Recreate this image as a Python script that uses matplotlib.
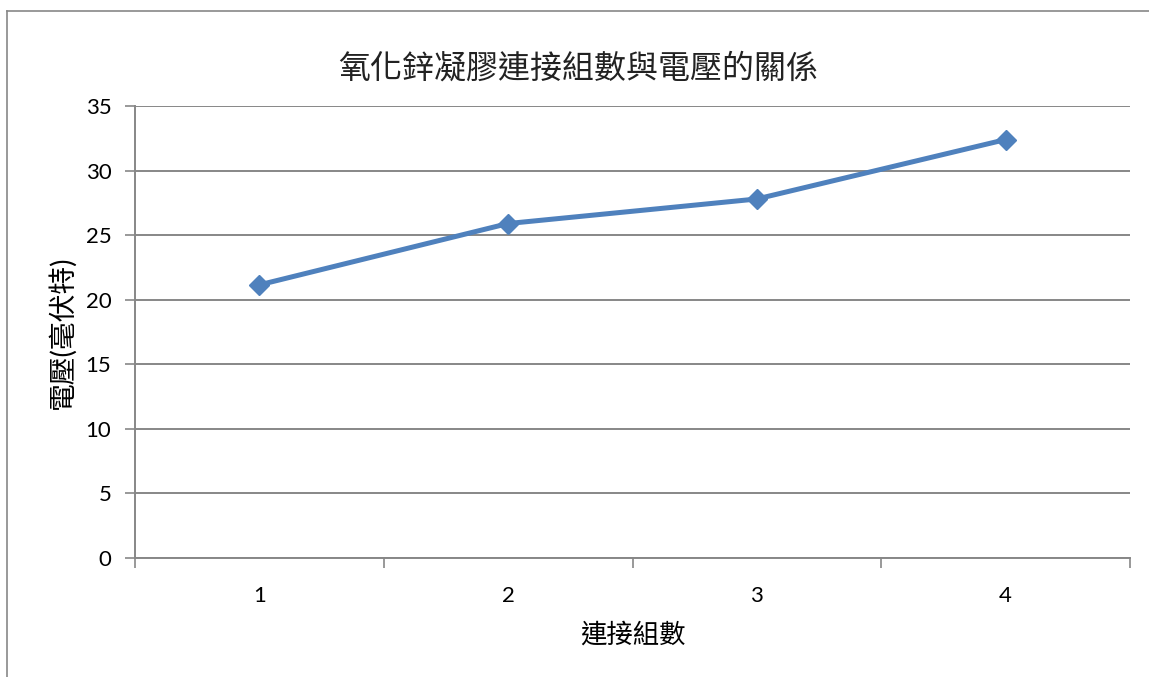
import matplotlib
matplotlib.use('Agg')
import matplotlib.pyplot as plt

plt.rcParams['font.family'] = ['Lato', 'Noto Sans CJK TC', 'DejaVu Sans']

# data
groups = [1, 2, 3, 4]
voltage = [21.15, 25.9, 27.8, 32.4]
y_ticks = [0, 5, 10, 15, 20, 25, 30, 35]

title = '氧化鋅凝膠連接組數與電壓的關係'
x_title = '連接組數'
y_title = '電壓(毫伏特)'

grid_gray = '#878787'
line_blue = '#4F81BD'

fig = plt.figure(figsize=(11.49, 6.77), dpi=100)

# outer chart-area border (only left and top visible in the crop)
fig.add_artist(plt.Line2D([7/1149, 7/1149], [0, 1 - 11/677], color=grid_gray, lw=1.2,
                          transform=fig.transFigure))
fig.add_artist(plt.Line2D([7/1149, 1], [1 - 11/677, 1 - 11/677], color=grid_gray, lw=1.2,
                          transform=fig.transFigure))

ax = fig.add_axes([135/1149, 1 - 558/677, (1130 - 135)/1149, (558 - 106)/677])

ax.plot(groups, voltage, color=line_blue, lw=3.6, marker='D', markersize=10,
        markerfacecolor=line_blue, markeredgecolor=line_blue, zorder=3)

ax.set_xlim(0.5, 4.5)
ax.set_ylim(0, 35)
ax.set_yticks(y_ticks)
ax.set_xticks(groups)
ax.set_xticks([0.5, 1.5, 2.5, 3.5, 4.5], minor=True)
ax.tick_params(axis='x', which='major', length=0, pad=20, labelsize=16)
ax.tick_params(axis='x', which='minor', length=7, width=1.2, color=grid_gray, direction='out')
ax.tick_params(axis='y', length=7, width=1.2, color=grid_gray, pad=10, labelsize=16)

ax.grid(axis='y', color=grid_gray, lw=1.4)
ax.set_axisbelow(True)
for side in ['top', 'right']:
    ax.spines[side].set_visible(False)
for side in ['left', 'bottom']:
    ax.spines[side].set_color(grid_gray)
    ax.spines[side].set_linewidth(1.4)

ax.set_xlabel(x_title, fontsize=19, labelpad=12)
ax.set_ylabel(y_title, fontsize=20, labelpad=7)
fig.text(578/1149, 1 - 68/677, title, fontsize=23, ha='center', va='center',
         color='#222222')

fig.savefig('out.png', dpi=100)
